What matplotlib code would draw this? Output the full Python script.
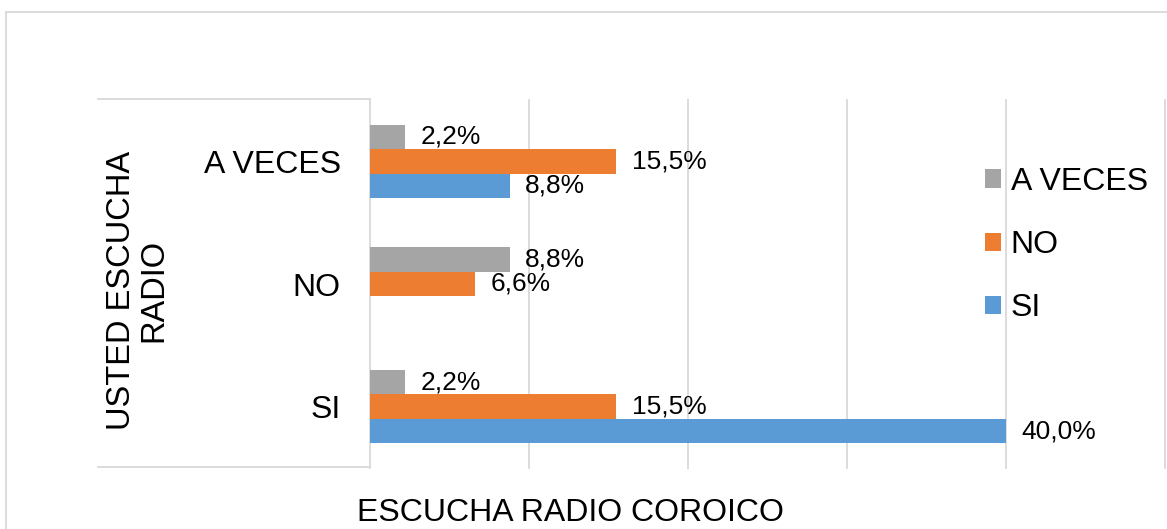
import numpy as np
import matplotlib
matplotlib.use('Agg')
from matplotlib import pyplot as plt
from matplotlib.lines import Line2D

plt.rcParams['font.family'] = ['Liberation Sans', 'DejaVu Sans']

# data
categories = ['A VECES', 'NO', 'SI']
series = ['A VECES', 'NO', 'SI']
a_veces = [2.2, 8.8, 2.2]
no = [15.5, 6.6, 15.5]
si = [8.8, 0.0, 40.0]
values = [a_veces, no, si]
colors = ['#A5A5A5', '#ED7D31', '#5B9BD5']

W, H = 1167, 529
fig = plt.figure(figsize=(W/100, H/100), dpi=100)
ax = fig.add_axes([370/W, 1-468/H, 795/W, 368/H])

y = np.arange(len(categories))
offs = [-0.2, 0.0, 0.2]
for i in range(len(series)):
    b = ax.barh(y+offs[i], values[i], height=0.2, color=colors[i], label=series[i], zorder=3)
    labs = [('%.1f%%' % v).replace('.', ',') if v > 0 else '' for v in values[i]]
    ax.bar_label(b, labels=labs, padding=11, fontsize=19, color='#000000')

ax.set_xlim(0, 50)
ax.set_ylim(2.5, -0.5)
ax.set_xticks(range(0, 51, 10))
ax.set_xticklabels([])
ax.tick_params(axis='x', length=0)
ax.set_yticks(y)
ax.set_yticklabels(categories, fontsize=23)
ax.tick_params(axis='y', length=0, pad=21)
ax.grid(axis='x', color='#D9D9D9', lw=1.3, zorder=0)
for s in ax.spines.values():
    s.set_visible(False)
for gl in ax.get_xgridlines():
    gl.set_clip_on(False)

# box lines around category area and outer frame
lc = '#D9D9D9'
fig.add_artist(Line2D([98/W, 370/W], [1-99/H, 1-99/H], color=lc, lw=1.3))
fig.add_artist(Line2D([98/W, 370/W], [1-467/H, 1-467/H], color=lc, lw=1.3))
fig.add_artist(Line2D([6/W, 1.0], [1-12/H, 1-12/H], color=lc, lw=1.3))
fig.add_artist(Line2D([6/W, 6/W], [1-12/H, 0.0], color=lc, lw=1.3))

fig.text(138/W, 1-290/H, 'USTED ESCUCHA\nRADIO', rotation=90, fontsize=23.5,
         ha='center', va='center', multialignment='center', linespacing=1.05)
fig.text(570/W, 1-513/H, 'ESCUCHA RADIO COROICO', fontsize=23, ha='center', va='center')

fig.legend(loc='center left', bbox_to_anchor=(985/W, 1-245/H), frameon=False,
           fontsize=23, handlelength=0.5, handleheight=0.5, handletextpad=0.3,
           labelspacing=1.04, borderpad=0, borderaxespad=0)

plt.savefig('out.png', dpi=100)
